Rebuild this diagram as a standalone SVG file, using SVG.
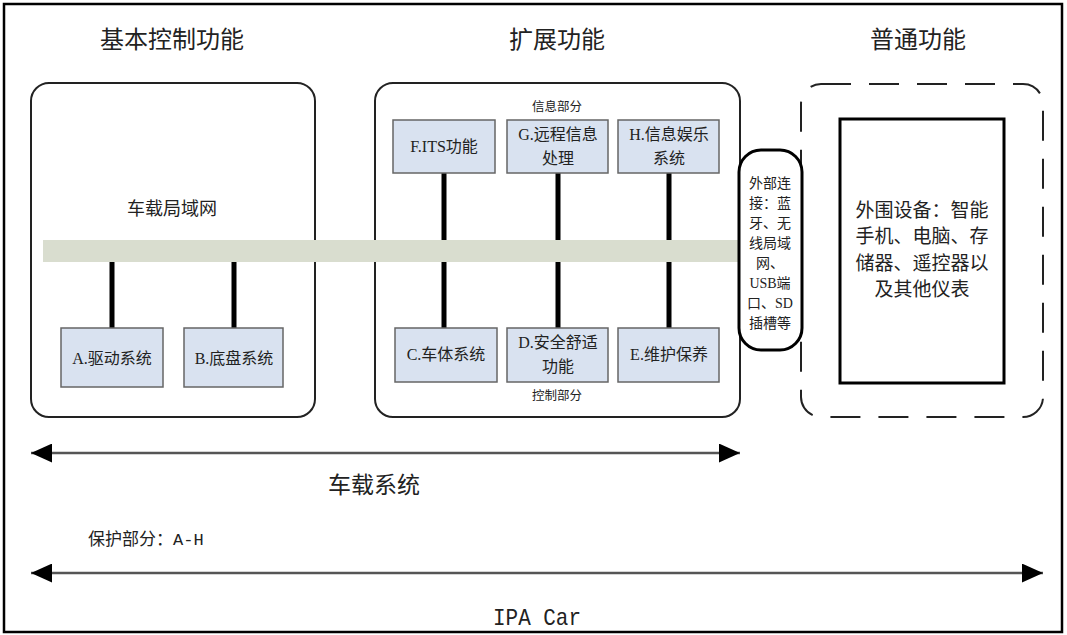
<svg xmlns="http://www.w3.org/2000/svg" width="1067" height="635" viewBox="0 0 1067 635">
<style>
.title{font-family:"Noto Sans CJK SC","Liberation Sans",sans-serif;font-size:24px;fill:#222;text-anchor:middle}
.lbl{font-family:"Liberation Serif","Noto Sans CJK SC",serif;font-size:16px;fill:#222;text-anchor:middle}
.small{font-family:"Noto Sans CJK SC",sans-serif;font-size:12.5px;fill:#222;text-anchor:middle}
.pill{font-family:"Liberation Serif","Noto Sans CJK SC",serif;font-size:14px;fill:#222;text-anchor:middle}
.per{font-family:"Liberation Serif","Noto Sans CJK SC",serif;font-size:19px;fill:#222;text-anchor:middle}
.sys{fill:#d9e2f0;stroke:#666;stroke-width:1.5}
.frame{fill:none;stroke:#222;stroke-width:2}
.bus{stroke:#000;stroke-width:5;stroke-linecap:round}
.arr{stroke:#555;stroke-width:2.5;fill:none}
</style>
<defs>
<marker id="ah" viewBox="0 0 20 18" refX="20" refY="9" markerWidth="21" markerHeight="19" markerUnits="userSpaceOnUse" orient="auto-start-reverse">
<path d="M0,0 L20,9 L0,18 z" fill="#000"/>
</marker>
</defs>
<rect x="0" y="0" width="1067" height="635" fill="#fff"/>
<rect x="4" y="4" width="1058" height="628" fill="none" stroke="#000" stroke-width="2.5"/>

<text class="title" x="172" y="48">基本控制功能</text>
<text class="title" x="557" y="48">扩展功能</text>
<text class="title" x="918" y="48">普通功能</text>

<g id="basic-frame"><rect class="frame" x="31" y="83" width="284" height="334" rx="18"/></g>
<g id="ext-frame"><rect class="frame" x="375" y="83" width="365" height="334" rx="18"/></g>
<g id="normal-frame"><rect x="801" y="84" width="242" height="333" rx="20" fill="none" stroke="#222" stroke-width="2" stroke-dasharray="30,18"/></g>

<text x="172" y="215" font-family="Noto Sans CJK SC,sans-serif" font-size="18" fill="#222" text-anchor="middle">车载局域网</text>

<g id="connectors">
<line class="bus" x1="112" y1="255" x2="112" y2="328"/>
<line class="bus" x1="234" y1="255" x2="234" y2="328"/>
<line class="bus" x1="444" y1="173" x2="444" y2="242"/>
<line class="bus" x1="558" y1="173" x2="558" y2="242"/>
<line class="bus" x1="669" y1="173" x2="669" y2="242"/>
<line class="bus" x1="444" y1="260" x2="444" y2="328"/>
<line class="bus" x1="558" y1="260" x2="558" y2="328"/>
<line class="bus" x1="669" y1="260" x2="669" y2="328"/>
<line class="arr" x1="31" y1="453" x2="740" y2="453" marker-start="url(#ah)" marker-end="url(#ah)"/>
<line class="arr" x1="31" y1="573" x2="1043" y2="573" marker-start="url(#ah)" marker-end="url(#ah)"/>
</g>

<g id="can-bus"><rect x="43" y="240" width="702" height="22" fill="#d9ddcf"/></g>

<g id="node-a"><rect class="sys" x="61" y="328" width="102" height="59"/><text class="lbl" x="112" y="364">A.驱动系统</text></g>
<g id="node-b"><rect class="sys" x="184" y="328" width="99" height="59"/><text class="lbl" x="234" y="364">B.底盘系统</text></g>

<g id="info-label"><rect x="508" y="95" width="99" height="22" fill="#fff"/><text class="small" x="557" y="111">信息部分</text></g>
<g id="node-f"><rect class="sys" x="393" y="120" width="102" height="53"/><text class="lbl" x="444" y="152">F.ITS功能</text></g>
<g id="node-g"><rect class="sys" x="507" y="120" width="101" height="53"/><text class="lbl" x="558" y="140">G.远程信息</text><text class="lbl" x="558" y="164">处理</text></g>
<g id="node-h"><rect class="sys" x="618" y="120" width="101" height="53"/><text class="lbl" x="669" y="140">H.信息娱乐</text><text class="lbl" x="669" y="164">系统</text></g>

<g id="node-c"><rect class="sys" x="395" y="328" width="102" height="54"/><text class="lbl" x="446" y="360">C.车体系统</text></g>
<g id="node-d"><rect class="sys" x="507" y="328" width="101" height="54"/><text class="lbl" x="558" y="348">D.安全舒适</text><text class="lbl" x="558" y="372">功能</text></g>
<g id="node-e"><rect class="sys" x="618" y="328" width="101" height="54"/><text class="lbl" x="669" y="360">E.维护保养</text></g>
<g id="ctrl-label"><rect x="508" y="385" width="99" height="21" fill="#fff"/><text class="small" x="557" y="400">控制部分</text></g>

<g id="ext-conn">
<rect x="739" y="150" width="63" height="200" rx="22" fill="#fff" stroke="#000" stroke-width="3"/>
<text class="pill" x="770" y="188">外部连</text>
<text class="pill" x="770" y="208">接：蓝</text>
<text class="pill" x="770" y="228">牙、无</text>
<text class="pill" x="770" y="248">线局域</text>
<text class="pill" x="770" y="268">网、</text>
<text class="pill" x="770" y="288">USB端</text>
<text class="pill" x="770" y="308">口、SD</text>
<text class="pill" x="770" y="328">插槽等</text>
</g>

<g id="peripherals">
<rect x="840" y="119" width="164" height="264" fill="#fff" stroke="#000" stroke-width="3"/>
<text class="per" x="922" y="217">外围设备：智能</text>
<text class="per" x="922" y="243">手机、电脑、存</text>
<text class="per" x="922" y="270">储器、遥控器以</text>
<text class="per" x="922" y="296">及其他仪表</text>
</g>

<text x="374" y="493" font-family="Noto Sans CJK SC,sans-serif" font-size="23" fill="#222" text-anchor="middle">车载系统</text>
<text x="88" y="545" font-family="Noto Sans CJK SC,sans-serif" font-size="17" fill="#222">保护部分：<tspan font-family="Liberation Mono,monospace">A-H</tspan></text>
<text x="537" y="625" font-family="Liberation Mono,monospace" font-size="24" fill="#222" text-anchor="middle" textLength="88" lengthAdjust="spacingAndGlyphs">IPA Car</text>
</svg>
